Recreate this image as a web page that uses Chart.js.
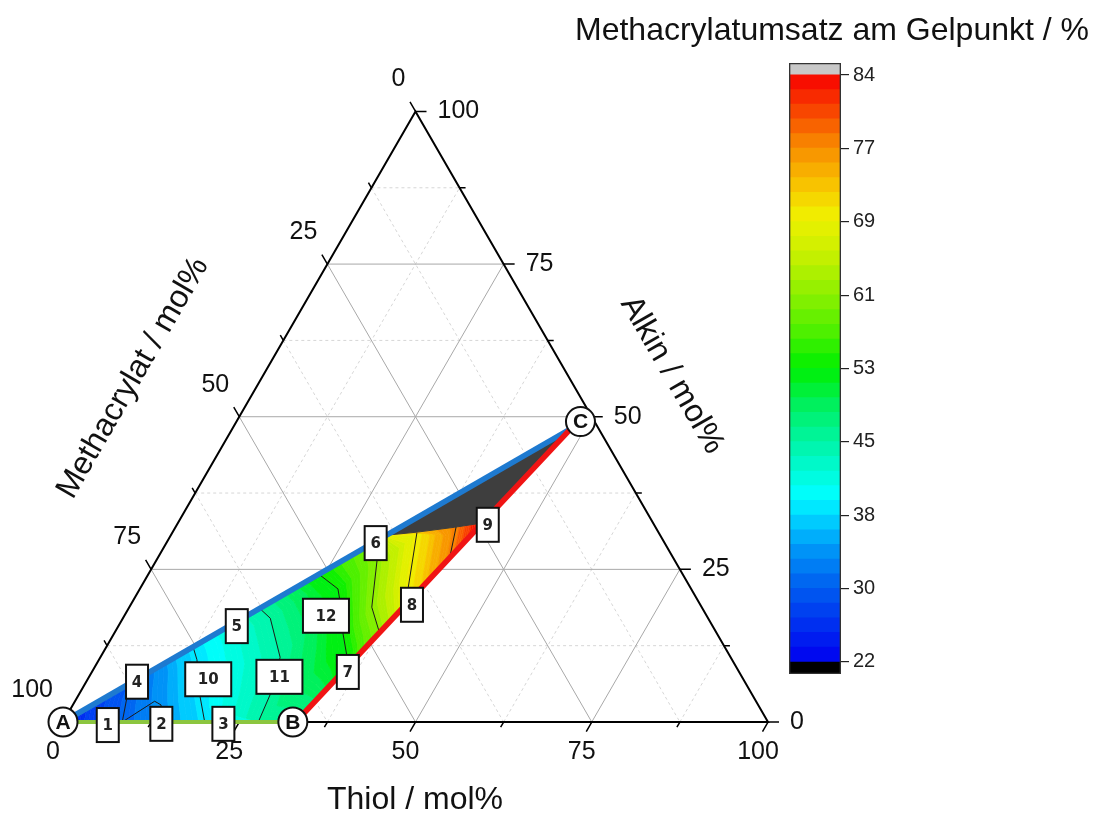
<!DOCTYPE html>
<html>
<head>
<meta charset="utf-8">
<script src="https://cdn.jsdelivr.net/npm/chart.js@4/dist/chart.umd.min.js"></script>
<style>
html,body{margin:0;padding:0;background:#fff;}
#wrap{position:relative;width:1107px;height:817px;overflow:hidden;}
#main{position:absolute;left:0;top:0;}
#cbar{position:absolute;left:780px;top:40px;}
</style>
</head>
<body>
<div id="wrap">
<canvas id="main" width="1107" height="817"></canvas>
<canvas id="cbar" width="120" height="660"></canvas>
</div>
<script>
// ---------------- DATA (ternary points given as [Thiol, Alkin] mol%; Methacrylat = 100 - Thiol - Alkin) -------------
const axisTitles = ['Thiol / mol%', 'Methacrylat / mol%', 'Alkin / mol%'];
const colorbarTitle = 'Methacrylatumsatz am Gelpunkt / %';
const tickValues = [0, 25, 50, 75, 100];
const tickLabels = ['0', '25', '50', '75', '100'];
const minorTickValues = [12.5, 37.5, 62.5, 87.5];

const regionA = [0, 0];
const regionB = [33, 0];
const regionC = [48, 48];
const vertexNames = ['A', 'B', 'C'];
const vertexPos = [[0, 0], [32.6, 0], [48.8, 49.2]];

const sampleLabels = ['1','2','3','4','5','6','7','8','9','10','11','12'];
const samplePos = [[6.6,-0.5],[14.1,-0.3],[22.9,-0.3],[7.2,6.6],[16.8,15.7],[29.7,29.3],
                   [36.3,8.2],[39.9,19.2],[44.1,32.3],[17.1,7.0],[27.0,7.4],[28.6,17.4]];

// contour (iso) lines of the conversion
const contourLevels = [30, 38, 45, 53, 61, 69, 77];
const contour30a = [[6.6,6.6],[7.1,3.9],[8.4,0]];
const contour30b = [[8.4,0],[11.3,3.4],[12.5,2.8],[14.2,0]];
const contour38 = [[12.3,12.3],[13.9,10.2],[17.4,4.1],[20.1,0]];
const contour45 = [[18.6,18.6],[20.9,17.0],[25.5,10.6],[27.1,4.8],[27.7,0]];
const contour53 = [[24.2,24.2],[28.1,21.8],[29.2,20.1],[32.4,14.6],[35.0,10.6],[35.7,8.5]];
const contour61 = [[29.8,29.8],[31.3,26.5],[34.4,18.8],[37.6,14.6]];
const contour69 = [[34.7,31.0],[38.0,21.9],[39.1,19.5]];
const contour77 = [[39.8,31.9],[41.4,26.9]];
const darkBoundary = [[30.6,30.6],[34.7,31.1],[39.6,31.9],[43.2,32.6]];
const valueAtA = 25;
const valueAtTip = 84;

// colour scale
const colorbarMin = 22, colorbarMax = 84, colorbarSteps = 40;
const colorbarTickValues = [22, 29.75, 37.5, 45.25, 53, 60.75, 68.5, 76.25, 84];
const colorbarTickLabels = ['22','30','38','45','53','61','69','77','84'];
const colormapStops = [
  [22,'#0000f0'],[26,'#0030f0'],[30,'#0060f0'],[34,'#0098f8'],[37,'#00d0ff'],[39.5,'#00ffff'],
  [45,'#00f5a8'],[49,'#00f060'],[53,'#00f000'],[57,'#50f000'],[61,'#90f000'],[65,'#c8f000'],
  [69,'#f0f000'],[72,'#f8c800'],[75,'#f8a000'],[77,'#f88000'],[80,'#f84800'],[84,'#f80000']
];

// ---------------- helpers ----------------
const S3 = Math.sqrt(3) / 2;
const X_MIN = -63 / 7.05, X_MAX = (1107 - 63) / 7.05;
const Y_MIN = -(817 - 722) / 7.05, Y_MAX = 722 / 7.05;
const UPP = (X_MAX - X_MIN) / 1107; // data units per pixel
const FONT = '"Liberation Sans", Arial, sans-serif';

function cart(p) { return { x: p[0] + p[1] / 2, y: p[1] * S3 }; }
function lineData(polys) {
  const out = [];
  polys.forEach((poly, i) => {
    if (i) out.push({ x: null, y: null });
    poly.forEach(p => out.push(p.x !== undefined ? p : cart(p)));
  });
  return out;
}
function gridLines(vals) {
  const out = [];
  vals.forEach(v => {
    if (v <= 0 || v >= 100) return;
    out.push([[v, 0], [v, 100 - v]]);
    out.push([[0, 100 - v], [100 - v, 0]]);
    out.push([[0, v], [100 - v, v]]);
  });
  return out;
}
function tickSegs(vals, lenPx) {
  const L = lenPx * UPP, segs = [];
  vals.forEach(v => {
    let c = cart([v, 0]); segs.push([c, { x: c.x - 0.5 * L, y: c.y - S3 * L }]);
    c = cart([0, 100 - v]); segs.push([c, { x: c.x - 0.5 * L, y: c.y + S3 * L }]);
    c = cart([100 - v, v]); segs.push([c, { x: c.x + L, y: c.y }]);
  });
  return segs;
}
function hex2rgb(h) { return [parseInt(h.substr(1,2),16), parseInt(h.substr(3,2),16), parseInt(h.substr(5,2),16)]; }
function cmap(v) {
  const s = colormapStops;
  if (v <= s[0][0]) return s[0][1];
  for (let i = 1; i < s.length; i++) {
    if (v <= s[i][0]) {
      const f = (v - s[i-1][0]) / (s[i][0] - s[i-1][0]);
      const a = hex2rgb(s[i-1][1]), b = hex2rgb(s[i][1]);
      return 'rgb(' + a.map((c, k) => Math.round(c + f * (b[k] - c))).join(',') + ')';
    }
  }
  return s[s.length-1][1];
}
const STEP = (colorbarMax - colorbarMin) / colorbarSteps;
function quantColor(v) {
  const idx = Math.min(colorbarSteps - 1, Math.max(0, Math.floor((v - colorbarMin) / STEP)));
  return cmap(colorbarMin + (idx + 0.5) * STEP);
}
function resample(pts, n) {
  if (pts.length === 1) return Array.from({ length: n }, () => pts[0]);
  const d = [0];
  for (let i = 1; i < pts.length; i++) d.push(d[i-1] + Math.hypot(pts[i][0]-pts[i-1][0], pts[i][1]-pts[i-1][1]));
  const total = d[d.length-1], out = [];
  let s = 0;
  for (let i = 0; i < n; i++) {
    const t = total * i / (n - 1);
    while (s < d.length - 2 && d[s+1] < t) s++;
    const f = (t - d[s]) / ((d[s+1] - d[s]) || 1);
    out.push([pts[s][0] + f * (pts[s+1][0] - pts[s][0]), pts[s][1] + f * (pts[s+1][1] - pts[s][1])]);
  }
  return out;
}
function toPx(chart, p) {
  const c = cart(p);
  return [chart.scales.x.getPixelForValue(c.x), chart.scales.y.getPixelForValue(c.y)];
}

function drawField(chart) {
  const ctx = chart.ctx;
  const P = p => toPx(chart, p);
  ctx.save();
  ctx.beginPath();
  [regionA, regionB, regionC].forEach((p, i) => { const q = P(p); i ? ctx.lineTo(q[0], q[1]) : ctx.moveTo(q[0], q[1]); });
  ctx.closePath();
  ctx.clip();
  const isos = [
    { lvl: valueAtA, pts: [regionA] },
    { lvl: contourLevels[0], pts: contour30a },
    { lvl: contourLevels[1], pts: contour38 },
    { lvl: contourLevels[2], pts: contour45.concat([regionB]) },
    { lvl: contourLevels[3], pts: contour53 },
    { lvl: contourLevels[4], pts: contour61 },
    { lvl: contourLevels[5], pts: [darkBoundary[0]].concat(contour69) },
    { lvl: contourLevels[6], pts: contour77 },
    { lvl: valueAtTip, pts: [darkBoundary[darkBoundary.length-1]] }
  ];
  const N = 90, nSub = 14;
  for (let k = 0; k < isos.length - 1; k++) {
    const a = resample(isos[k].pts.map(P), N), b = resample(isos[k+1].pts.map(P), N);
    for (let j = 0; j < nSub; j++) {
      const t0 = j / nSub, t1 = (j + 1) / nSub;
      const v = isos[k].lvl + (j + 0.5) / nSub * (isos[k+1].lvl - isos[k].lvl);
      const col = quantColor(v);
      ctx.beginPath();
      for (let i = 0; i < N; i++) {
        const x = a[i][0] + (b[i][0] - a[i][0]) * t0, y = a[i][1] + (b[i][1] - a[i][1]) * t0;
        i ? ctx.lineTo(x, y) : ctx.moveTo(x, y);
      }
      for (let i = N - 1; i >= 0; i--) {
        ctx.lineTo(a[i][0] + (b[i][0] - a[i][0]) * t1, a[i][1] + (b[i][1] - a[i][1]) * t1);
      }
      ctx.closePath();
      ctx.fillStyle = col; ctx.strokeStyle = col; ctx.lineWidth = 1;
      ctx.fill(); ctx.stroke();
    }
  }
  const dark = [darkBoundary[0], regionC].concat(darkBoundary.slice(1).reverse());
  ctx.beginPath();
  dark.forEach((p, i) => { const q = P(p); i ? ctx.lineTo(q[0], q[1]) : ctx.moveTo(q[0], q[1]); });
  ctx.closePath();
  ctx.fillStyle = '#3e3e3e'; ctx.strokeStyle = '#3e3e3e'; ctx.lineWidth = 1;
  ctx.fill(); ctx.stroke();
  ctx.restore();
}

function text(ctx, s, x, y, font, align, rot) {
  ctx.save();
  ctx.translate(x, y);
  if (rot) ctx.rotate(rot);
  ctx.font = font; ctx.textAlign = align || 'center'; ctx.textBaseline = 'middle';
  ctx.fillStyle = '#111';
  ctx.fillText(s, 0, 0);
  ctx.restore();
}

const ternaryPlugin = {
  id: 'ternary',
  beforeDatasetDraw(chart, args) {
    if (chart.data.datasets[args.index].label === 'contours') drawField(chart);
  },
  afterDatasetsDraw(chart) {
    const ctx = chart.ctx;
    sampleLabels.forEach((lab, i) => {
      const [x, y] = toPx(chart, samplePos[i]);
      const w = lab.length > 1 ? 46 : 22, h = 34;
      ctx.save();
      ctx.fillStyle = '#fff'; ctx.fillRect(x - w/2, y - h/2, w, h);
      ctx.strokeStyle = '#111'; ctx.lineWidth = 2; ctx.strokeRect(x - w/2, y - h/2, w, h);
      ctx.fillStyle = '#222'; ctx.font = 'bold 15px "DejaVu Sans", sans-serif';
      ctx.textAlign = 'center'; ctx.textBaseline = 'middle';
      ctx.fillText(lab, x, y + 1);
      ctx.restore();
    });
    vertexNames.forEach((n, i) => {
      const [x, y] = toPx(chart, vertexPos[i]);
      text(ctx, n, x, y + 1, 'bold 21px ' + FONT, 'center');
    });
  },
  afterDraw(chart) {
    const ctx = chart.ctx;
    const f = '25px ' + FONT, ft = '32px ' + FONT;
    tickValues.forEach((v, i) => {
      let [x, y] = toPx(chart, [v, 0]);
      text(ctx, tickLabels[i], x - 10, y + 30, f, 'center');
      [x, y] = toPx(chart, [0, 100 - v]);
      text(ctx, tickLabels[i], x - 10, y - 32, f, 'right');
      [x, y] = toPx(chart, [100 - v, v]);
      text(ctx, tickLabels[i], x + 22, y, f, 'left');
    });
    text(ctx, axisTitles[0], 415, 800, ft, 'center');
    text(ctx, axisTitles[1], 133, 378, ft, 'center', -Math.PI / 3);
    text(ctx, axisTitles[2], 672, 375, ft, 'center', Math.PI / 3);
    text(ctx, colorbarTitle, 832, 31, ft, 'center');
  }
};

new Chart(document.getElementById('main'), {
  type: 'line',
  data: {
    datasets: [
      { label: 'gridMinor', data: lineData(gridLines(minorTickValues)), borderColor: '#d6d6d6', borderWidth: 1, borderDash: [3, 3], order: 5 },
      { label: 'gridMajor', data: lineData(gridLines(tickValues)), borderColor: '#a8a8a8', borderWidth: 1, order: 4 },
      { label: 'axes', data: lineData([[[0, 0], [100, 0], [0, 100], [0, 0]]]), borderColor: '#000', borderWidth: 2, order: 3 },
      { label: 'ticksMajor', data: lineData(tickSegs(tickValues, 11)), borderColor: '#000', borderWidth: 1.5, order: 3 },
      { label: 'ticksMinor', data: lineData(tickSegs(minorTickValues, 6)), borderColor: '#000', borderWidth: 1.5, order: 3 },
      { label: 'contours', data: lineData([contour30a, contour30b, contour38, contour45, contour53, contour61, contour69, contour77]), borderColor: '#1a1a1a', borderWidth: 1, order: 2 },
      { label: 'edgeAB', data: lineData([[regionA, regionB]]), borderColor: '#8cc63f', borderWidth: 4, order: 1 },
      { label: 'edgeBC', data: lineData([[regionB, regionC]]), borderColor: '#f01414', borderWidth: 5.5, order: 1 },
      { label: 'edgeAC', data: lineData([[regionA, regionC]]), borderColor: '#1e7ad0', borderWidth: 5.5, order: 1 },
      { label: 'vertices', data: vertexPos.map(cart), showLine: false, pointRadius: 14.5, pointBackgroundColor: '#fff', pointBorderColor: '#111', pointBorderWidth: 2, order: 0 }
    ]
  },
  options: {
    responsive: false,
    animation: false,
    events: [],
    layout: { padding: 0, autoPadding: false },
    elements: { point: { radius: 0 }, line: { tension: 0, fill: false } },
    plugins: { legend: { display: false }, tooltip: { enabled: false } },
    scales: {
      x: { type: 'linear', display: false, min: X_MIN, max: X_MAX },
      y: { type: 'linear', display: false, min: Y_MIN, max: Y_MAX }
    }
  },
  plugins: [ternaryPlugin]
});

// ---------------- colour bar ----------------
const extra = 1.27;
const cbDatasets = [];
cbDatasets.push({ data: [[colorbarMin - extra, colorbarMin]], backgroundColor: '#000000' });
for (let i = 0; i < colorbarSteps; i++) {
  const lo = colorbarMin + i * STEP;
  cbDatasets.push({ data: [[lo, lo + STEP + 0.02]], backgroundColor: cmap(lo + STEP / 2) });
}
cbDatasets.push({ data: [[colorbarMax, colorbarMax + extra]], backgroundColor: '#c8c8c8' });
cbDatasets.push({ data: [[colorbarMin - extra, colorbarMax + extra]], backgroundColor: 'rgba(0,0,0,0)', borderColor: '#333', borderWidth: 1, borderSkipped: false, order: -1 });

new Chart(document.getElementById('cbar'), {
  type: 'bar',
  data: { labels: [''], datasets: cbDatasets },
  options: {
    responsive: false,
    animation: false,
    events: [],
    layout: { padding: { left: 9, right: 0, top: 23, bottom: 26 } },
    plugins: { legend: { display: false }, tooltip: { enabled: false } },
    datasets: { bar: { grouped: false, barPercentage: 1, categoryPercentage: 1, borderWidth: 0 } },
    scales: {
      x: { display: false },
      y: {
        position: 'right',
        min: colorbarMin - extra, max: colorbarMax + extra,
        afterBuildTicks: s => { s.ticks = colorbarTickValues.map(v => ({ value: v })); },
        afterFit: s => { s.width = 59; },
        ticks: { callback: (v, i) => colorbarTickLabels[i], autoSkip: false, padding: 4, color: '#222', font: { family: FONT, size: 20 } },
        grid: { drawOnChartArea: false, drawTicks: true, tickLength: 8, color: '#222', lineWidth: 1.2 },
        border: { display: false }
      }
    }
  }
});
</script>
</body>
</html>
